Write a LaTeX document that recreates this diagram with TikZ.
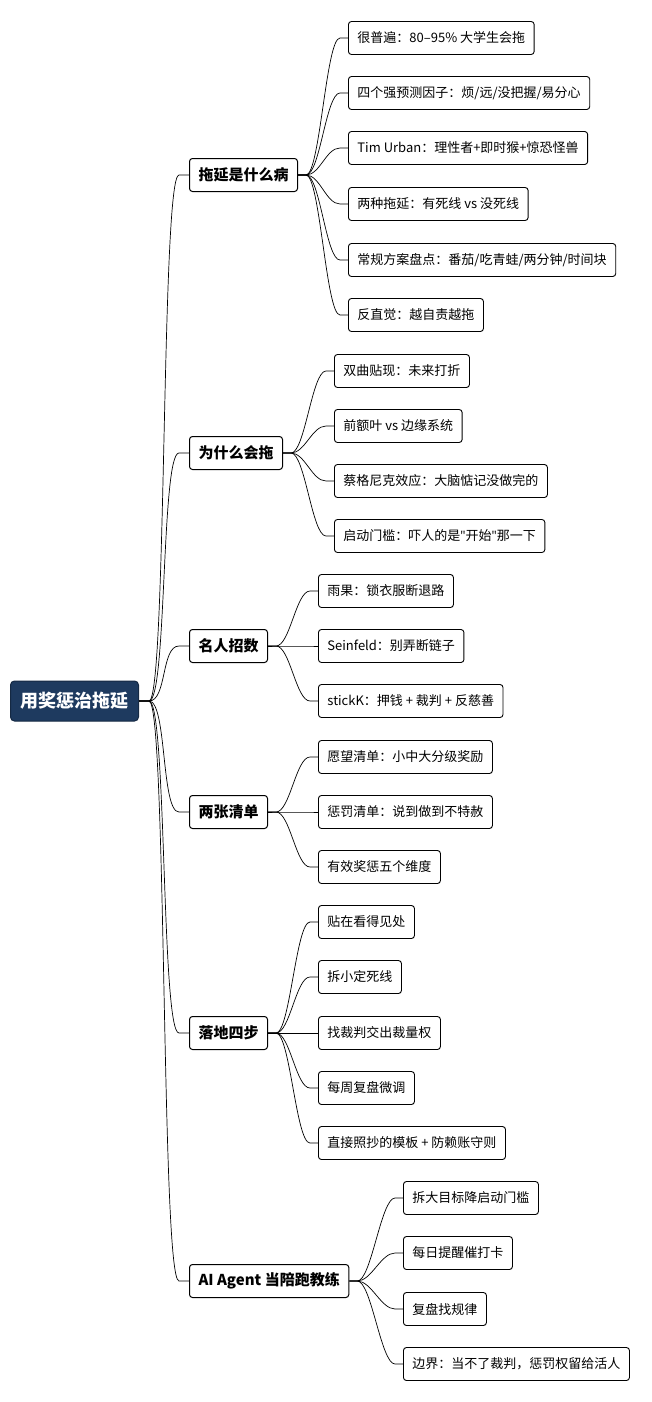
\documentclass[tikz,border=0pt]{standalone}
\usepackage{fontspec}
\usetikzlibrary{calc}
\setmainfont{Noto Sans CJK SC}
\newfontfamily\latq{Open Sans}
\newcommand{\sq}{{\latq\symbol{34}}}
\definecolor{rootc}{HTML}{1E3A5F}
\begin{document}
\begin{tikzpicture}[x=1pt,y=-1pt,
  leaf/.style={draw,line width=0.9pt,rounded corners=3pt,anchor=west,minimum height=33pt,inner xsep=9pt,font=\fontsize{13}{15}\selectfont},
  mid/.style={draw,line width=1pt,rounded corners=3pt,anchor=west,minimum height=33pt,inner xsep=9pt,font=\fontsize{15}{17}\selectfont\bfseries},
  link/.style={line width=0.7pt}]
\useasboundingbox (0,0) rectangle (652,1402);
\node[draw=rootc!70!black,fill=rootc,text=white,rounded corners=4pt,line width=1pt,anchor=west,minimum height=40pt,minimum width=128pt,font=\fontsize{18}{20}\selectfont\bfseries] (r) at (10,701) {用奖惩治拖延};
\node[mid] (m1) at (189,175) {拖延是什么病};
\node[mid] (m2) at (189,453) {为什么会拖};
\node[mid] (m3) at (189,646) {名人招数};
\node[mid] (m4) at (189,812) {两张清单};
\node[mid] (m5) at (189,1033) {落地四步};
\node[mid] (m6) at (189,1281) {AI Agent 当陪跑教练};
\foreach \m in {m1,m2,m3,m4,m5,m6}{
  \draw[link] (r.east) -- ++(10,0) .. controls ($(r.east)+(28,0)$) and ($(\m.west)+(-28,0)$) .. ($(\m.west)+(-10,0)$) -- (\m.west);
}
\node[leaf] (a1) at (348,38) {很普遍：80–95\% 大学生会拖};
\node[leaf] (a2) at (348,93) {四个强预测因子：烦/远/没把握/易分心};
\node[leaf] (a3) at (348,148) {Tim Urban：理性者+即时猴+惊恐怪兽};
\node[leaf] (a4) at (348,204) {两种拖延：有死线 vs 没死线};
\node[leaf] (a5) at (348,260) {常规方案盘点：番茄/吃青蛙/两分钟/时间块};
\node[leaf] (a6) at (348,315) {反直觉：越自责越拖};
\node[leaf] (b1) at (334,371) {双曲贴现：未来打折};
\node[leaf] (b2) at (334,426) {前额叶 vs 边缘系统};
\node[leaf] (b3) at (334,481) {蔡格尼克效应：大脑惦记没做完的};
\node[leaf] (b4) at (334,536) {启动门槛：吓人的是\sq 开始\sq 那一下};
\node[leaf] (c1) at (318,591) {雨果：锁衣服断退路};
\node[leaf] (c2) at (318,646) {Seinfeld：别弄断链子};
\node[leaf] (c3) at (318,701) {stickK：押钱 + 裁判 + 反慈善};
\node[leaf] (d1) at (318,757) {愿望清单：小中大分级奖励};
\node[leaf] (d2) at (318,812) {惩罚清单：说到做到不特赦};
\node[leaf] (d3) at (318,867) {有效奖惩五个维度};
\node[leaf] (e1) at (318,922) {贴在看得见处};
\node[leaf] (e2) at (318,977) {拆小定死线};
\node[leaf] (e3) at (318,1033) {找裁判交出裁量权};
\node[leaf] (e4) at (318,1088) {每周复盘微调};
\node[leaf] (e5) at (318,1143) {直接照抄的模板 + 防赖账守则};
\node[leaf] (f1) at (403,1198) {拆大目标降启动门槛};
\node[leaf] (f2) at (403,1253) {每日提醒催打卡};
\node[leaf] (f3) at (403,1309) {复盘找规律};
\node[leaf] (f4) at (403,1364) {边界：当不了裁判，惩罚权留给活人};
\foreach \p/\cs in {m1/{a1,a2,a3,a4,a5,a6},m2/{b1,b2,b3,b4},m3/{c1,c2,c3},m4/{d1,d2,d3},m5/{e1,e2,e3,e4,e5},m6/{f1,f2,f3,f4}}{
  \foreach \c in \cs {
    \draw[link] (\p.east) -- ++(8,0) .. controls ($(\p.east)+(22,0)$) and ($(\c.west)+(-22,0)$) .. ($(\c.west)+(-8,0)$) -- (\c.west);
  }
}
\end{tikzpicture}
\end{document}
